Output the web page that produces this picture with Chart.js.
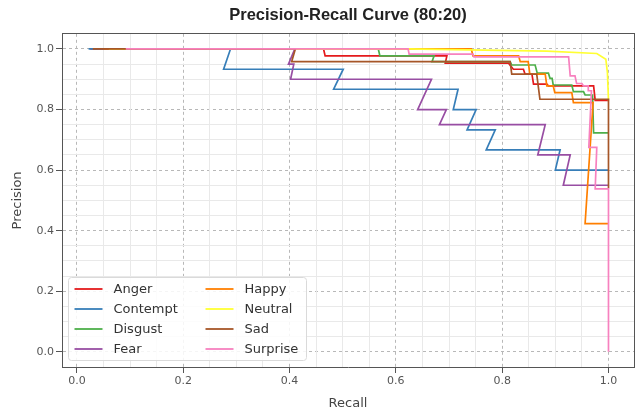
<!DOCTYPE html>
<html>
<head>
<meta charset="utf-8">
<script src="https://cdn.jsdelivr.net/npm/chart.js@4"></script>
<style>
	html, body { margin: 0; padding: 0; background: #fff; }
</style>
</head>
<body>
<canvas id="chart" width="643" height="413"></canvas>
<script>
// precision-recall points as [recall, precision]
const anger = [[0.025, 1.0], [0.464, 1.0], [0.467, 0.977], [0.696, 0.977], [0.693, 0.953], [0.812, 0.953], [0.821, 0.933], [0.84, 0.933], [0.843, 0.917], [0.856, 0.917], [0.859, 0.884], [0.884, 0.884], [0.887, 0.878], [0.972, 0.878], [0.975, 0.83], [1.0, 0.83]]
const contempt = [[0.022, 1.0], [0.289, 1.0], [0.276, 0.933], [0.501, 0.933], [0.483, 0.867], [0.717, 0.867], [0.708, 0.8], [0.751, 0.8], [0.734, 0.733], [0.787, 0.733], [0.77, 0.667], [0.909, 0.667], [0.9, 0.6], [1.0, 0.6]]
const disgust = [[0.04, 1.0], [0.567, 1.0], [0.57, 0.977], [0.672, 0.977], [0.668, 0.958], [0.815, 0.958], [0.818, 0.947], [0.862, 0.947], [0.866, 0.92], [0.887, 0.92], [0.89, 0.903], [0.894, 0.903], [0.896, 0.881], [0.931, 0.881], [0.934, 0.859], [0.953, 0.859], [0.956, 0.848], [0.97, 0.848], [0.972, 0.723], [1.0, 0.723]]
const fear = [[0.04, 1.0], [0.41, 1.0], [0.398, 0.95], [0.408, 0.95], [0.402, 0.9], [0.667, 0.9], [0.641, 0.8], [0.695, 0.8], [0.682, 0.75], [0.881, 0.75], [0.867, 0.65], [0.928, 0.65], [0.915, 0.55], [1.0, 0.55]]
const happy = [[0.05, 1.0], [0.742, 1.0], [0.745, 0.977], [0.831, 0.977], [0.834, 0.958], [0.849, 0.958], [0.852, 0.917], [0.881, 0.917], [0.884, 0.878], [0.896, 0.878], [0.899, 0.856], [0.931, 0.856], [0.934, 0.823], [0.971, 0.823], [0.956, 0.423], [1.0, 0.423]]
const neutral = [[0.06, 1.0], [0.62, 1.0], [0.884, 0.993], [0.978, 0.985], [0.995, 0.966], [0.998, 0.922], [1.0, 0.83]]
const sad = [[0.03, 1.0], [0.411, 1.0], [0.404, 0.958], [0.815, 0.958], [0.818, 0.917], [0.865, 0.917], [0.871, 0.834], [1.0, 0.834], [1.0, 0.54]]
const surprise = [[0.092, 1.0], [0.623, 1.0], [0.625, 0.983], [0.745, 0.983], [0.747, 0.974], [0.925, 0.974], [0.928, 0.911], [0.937, 0.911], [0.94, 0.886], [0.95, 0.886], [0.953, 0.878], [0.962, 0.878], [0.962, 0.862], [0.968, 0.862], [0.963, 0.675], [0.978, 0.675], [0.975, 0.538], [1.0, 0.538], [1.0, 0.0]]

const classNames = ['Anger', 'Contempt', 'Disgust', 'Fear', 'Happy', 'Neutral', 'Sad', 'Surprise']
const curves = [anger, contempt, disgust, fear, happy, neutral, sad, surprise]
const classColors = ['#e41a1c', '#377eb8', '#4daf4a', '#984ea3', '#ff7f00', '#ffff33', '#a65628', '#f781bf']

const majorTicks = [0.0, 0.2, 0.4, 0.6, 0.8, 1.0]
const minorTicks = majorTicks.slice(0, -1).flatMap(v => [v + 0.05, v + 0.1, v + 0.15])

const xMin = -0.028, xMax = 1.048
const yMin = -0.05, yMax = 1.05

const isMajor = v => Math.abs(v * 5 - Math.round(v * 5)) < 1e-6
const family = 'DejaVu Sans'
Chart.defaults.font.family = family

// matplotlib style legend, two columns in the lower left of the plot
const legendBox = {
	id: 'legendBox',
	afterDraw(chart) {
		const { ctx, chartArea } = chart
		const sets = chart.data.datasets
		const rows = Math.ceil(sets.length / 2)
		const w = 238, h = 83, r = 3
		const left = chartArea.left + 6.5
		const top = chartArea.bottom - 7 - h + 0.5
		ctx.save()
		ctx.beginPath()
		ctx.moveTo(left + r, top)
		ctx.arcTo(left + w, top, left + w, top + h, r)
		ctx.arcTo(left + w, top + h, left, top + h, r)
		ctx.arcTo(left, top + h, left, top, r)
		ctx.arcTo(left, top, left + w, top, r)
		ctx.closePath()
		ctx.fillStyle = 'rgba(255,255,255,0.85)'
		ctx.fill()
		ctx.strokeStyle = '#dadada'
		ctx.lineWidth = 1
		ctx.stroke()
		ctx.font = '13px "' + family + '"'
		ctx.textBaseline = 'middle'
		sets.forEach((ds, i) => {
			const col = Math.floor(i / rows)
			const row = i % rows
			const y = top + 11.5 + row * 20
			const x = left + 6 + col * 131
			ctx.strokeStyle = ds.borderColor
			ctx.lineWidth = 1.8
			ctx.beginPath()
			ctx.moveTo(x, y)
			ctx.lineTo(x + 28, y)
			ctx.stroke()
			ctx.fillStyle = '#333'
			ctx.fillText(ds.label, x + 39, y + 1)
		})
		ctx.restore()
	},
}

new Chart(document.getElementById('chart'), {
	type: 'scatter',
	data: {
		datasets: classNames.map((name, i) => ({
			label: name,
			data: curves[i].map(([recall, precision]) => ({ x: recall, y: precision })),
			borderColor: classColors[i],
			backgroundColor: classColors[i],
			borderWidth: 1.7,
			showLine: true,
			pointRadius: 0,
			fill: false,
			order: classNames.length - i,
		})),
	},
	options: {
		responsive: false,
		animation: false,
		layout: { padding: { left: 0, right: 9, top: 0, bottom: 0 } },
		plugins: {
			legend: { display: false },
			tooltip: { enabled: false },
			title: {
				display: true,
				fullSize: false,
				text: 'Precision-Recall Curve (80:20)',
				color: '#222',
				font: { size: 16.5, weight: 'bold', family: 'Liberation Sans' },
				padding: { top: 6, bottom: 8 },
			},
		},
		scales: {
			x: {
				type: 'linear',
				min: xMin,
				max: xMax,
				afterBuildTicks: s => { s.ticks = majorTicks.map(v => ({ value: v })) },
				afterFit: s => { s.height = 46 },
				ticks: { callback: v => v.toFixed(1), color: '#555', font: { size: 11 }, padding: 2, maxRotation: 0, autoSkip: false },
				grid: { color: '#b8b8b8', lineWidth: 1, tickLength: 6, tickColor: '#555', tickWidth: 1 },
				border: { color: '#555', width: 1, dash: [3, 3] },
				title: { display: true, text: 'Recall', color: '#444', font: { size: 13 }, padding: { top: 0, bottom: 2 } },
			},
			y: {
				type: 'linear',
				min: yMin,
				max: yMax,
				afterBuildTicks: s => { s.ticks = majorTicks.map(v => ({ value: v })) },
				afterFit: s => { s.width = 62 },
				ticks: { callback: v => v.toFixed(1), color: '#555', font: { size: 11 }, padding: 2, autoSkip: false },
				grid: { color: '#b8b8b8', lineWidth: 1, tickLength: 6, tickColor: '#555', tickWidth: 1 },
				border: { color: '#555', width: 1, dash: [3, 3] },
				title: { display: true, text: 'Precision', color: '#444', font: { size: 13 }, padding: { top: 10, bottom: 0 } },
			},
			xMinor: {
				axis: 'x',
				type: 'linear',
				position: 'top',
				min: xMin,
				max: xMax,
				afterBuildTicks: s => { s.ticks = minorTicks.map(v => ({ value: v })) },
				ticks: { display: false },
				grid: { drawTicks: false, color: c => (c.tick && isMajor(c.tick.value) ? 'rgba(0,0,0,0)' : '#e9e9e9') },
				border: { color: '#555', width: 1 },
			},
			yMinor: {
				axis: 'y',
				type: 'linear',
				position: 'right',
				min: yMin,
				max: yMax,
				afterBuildTicks: s => { s.ticks = minorTicks.map(v => ({ value: v })) },
				ticks: { display: false },
				grid: { drawTicks: false, color: c => (c.tick && isMajor(c.tick.value) ? 'rgba(0,0,0,0)' : '#e9e9e9') },
				border: { color: '#555', width: 1 },
			},
		},
	},
	plugins: [legendBox],
})
</script>
</body>
</html>
